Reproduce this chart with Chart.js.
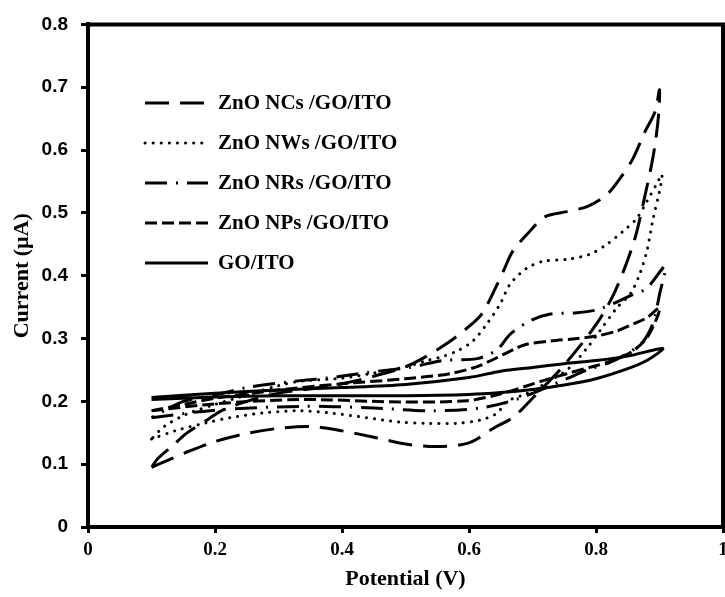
<!DOCTYPE html>
<html>
<head>
<meta charset="utf-8">
<script src="https://cdn.jsdelivr.net/npm/chart.js@4"></script>
<style>
  html, body { margin: 0; padding: 0; background: #fff; overflow: hidden; }
  #wrap { width: 760px; height: 597px; }
</style>
</head>
<body>
<div id="wrap"><canvas id="cv" width="760" height="597"></canvas></div>
<script>
// series labels, in legend order
const seriesLabels = ["ZnO NCs /GO/ITO", "ZnO NWs /GO/ITO", "ZnO NRs /GO/ITO", "ZnO NPs /GO/ITO", "GO/ITO"];

// tick labels
const xTickLabels = ["0", "0.2", "0.4", "0.6", "0.8", "1"];
const yTickLabels = ["0", "0.1", "0.2", "0.3", "0.4", "0.5", "0.6", "0.7", "0.8"];

// each loop: forward scan 0.1 -> 0.9, then back to 0.1
const ncsV = [0.10, 0.13, 0.16, 0.20, 0.25, 0.30, 0.35, 0.40, 0.45, 0.50, 0.55, 0.60, 0.64, 0.67, 0.70, 0.75, 0.80, 0.83, 0.86, 0.875, 0.89, 0.898, 0.90,
  0.893, 0.877, 0.858, 0.838, 0.817, 0.786, 0.754, 0.72, 0.696, 0.669, 0.654, 0.641, 0.62, 0.595, 0.565, 0.53, 0.50, 0.45, 0.40, 0.35, 0.30, 0.25, 0.21, 0.19, 0.155, 0.134, 0.11, 0.10];
const ncsI = [0.095, 0.108, 0.121, 0.136, 0.149, 0.157, 0.160, 0.153, 0.143, 0.132, 0.128, 0.134, 0.158, 0.175, 0.205, 0.258, 0.322, 0.375, 0.455, 0.518, 0.590, 0.650, 0.696,
  0.661, 0.629, 0.586, 0.555, 0.529, 0.510, 0.502, 0.494, 0.471, 0.439, 0.407, 0.379, 0.339, 0.315, 0.292, 0.270, 0.255, 0.240, 0.228, 0.220, 0.213, 0.200, 0.185, 0.172, 0.149, 0.130, 0.109, 0.095];

const nwsV = [0.10, 0.14, 0.187, 0.224, 0.28, 0.334, 0.386, 0.439, 0.491, 0.534, 0.58, 0.617, 0.644, 0.66, 0.69, 0.728, 0.759, 0.786, 0.806, 0.833, 0.854, 0.869, 0.88, 0.89, 0.90, 0.904,
  0.896, 0.88, 0.864, 0.843, 0.817, 0.79, 0.754, 0.717, 0.691, 0.665, 0.649, 0.628, 0.606, 0.581, 0.554, 0.534, 0.50, 0.45, 0.40, 0.334, 0.30, 0.25, 0.20, 0.156, 0.12, 0.10];
const nwsI = [0.140, 0.154, 0.166, 0.174, 0.182, 0.185, 0.181, 0.174, 0.167, 0.165, 0.165, 0.170, 0.181, 0.200, 0.212, 0.233, 0.254, 0.285, 0.312, 0.349, 0.371, 0.403, 0.439, 0.491, 0.534, 0.561,
  0.547, 0.518, 0.491, 0.471, 0.450, 0.434, 0.426, 0.423, 0.412, 0.387, 0.355, 0.323, 0.296, 0.280, 0.270, 0.265, 0.255, 0.245, 0.237, 0.232, 0.225, 0.210, 0.195, 0.180, 0.160, 0.140];

const nrsV = [0.10, 0.20, 0.334, 0.439, 0.543, 0.622, 0.68, 0.754, 0.786, 0.822, 0.849, 0.874, 0.89, 0.90, 0.909,
  0.88, 0.858, 0.806, 0.77, 0.728, 0.696, 0.665, 0.644, 0.613, 0.559, 0.507, 0.439, 0.386, 0.334, 0.25, 0.20, 0.15, 0.10];
const nrsI = [0.174, 0.186, 0.192, 0.190, 0.185, 0.190, 0.205, 0.236, 0.250, 0.262, 0.276, 0.295, 0.325, 0.370, 0.415,
  0.380, 0.370, 0.347, 0.341, 0.339, 0.328, 0.307, 0.282, 0.268, 0.265, 0.254, 0.246, 0.238, 0.233, 0.222, 0.210, 0.200, 0.174];

const npsV = [0.10, 0.20, 0.334, 0.491, 0.597, 0.65, 0.717, 0.754, 0.79, 0.827, 0.858, 0.88, 0.896, 0.90,
  0.88, 0.858, 0.833, 0.801, 0.77, 0.728, 0.691, 0.675, 0.617, 0.57, 0.50, 0.40, 0.30, 0.20, 0.15, 0.10];
const npsI = [0.185, 0.196, 0.203, 0.199, 0.201, 0.212, 0.233, 0.244, 0.254, 0.265, 0.280, 0.301, 0.333, 0.349,
  0.333, 0.323, 0.312, 0.304, 0.300, 0.296, 0.291, 0.285, 0.257, 0.244, 0.236, 0.228, 0.218, 0.205, 0.195, 0.185];

const goV = [0.10, 0.20, 0.30, 0.40, 0.50, 0.60, 0.65, 0.70, 0.75, 0.80, 0.85, 0.88, 0.905,
  0.85, 0.80, 0.75, 0.70, 0.65, 0.60, 0.50, 0.40, 0.30, 0.20, 0.10];
const goI = [0.203, 0.207, 0.209, 0.209, 0.209, 0.211, 0.214, 0.219, 0.226, 0.236, 0.252, 0.265, 0.284,
  0.272, 0.265, 0.260, 0.254, 0.248, 0.238, 0.227, 0.222, 0.218, 0.213, 0.206];

const dashes = [[24, 11], [0.1, 8], [22, 9, 2, 9], [12, 5], []];
const caps = ["butt", "round", "butt", "butt", "butt"];

function pts(v, i) {
  return v.map((x, k) => ({ x: x, y: i[k] }));
}

const series = [pts(ncsV, ncsI), pts(nwsV, nwsI), pts(nrsV, nrsI), pts(npsV, npsI), pts(goV, goI)];

const serifBold = { family: "'Liberation Serif', 'Times New Roman', serif", weight: "bold" };

// legend drawn inside the plot box, with the same dash patterns as the lines
const boxLegend = {
  id: "boxLegend",
  afterDraw(chart) {
    const ctx = chart.ctx;
    ctx.save();
    ctx.strokeStyle = "#000";
    ctx.fillStyle = "#000";
    ctx.lineWidth = 3;
    ctx.font = "bold 21px 'Liberation Serif', serif";
    ctx.textBaseline = "middle";
    seriesLabels.forEach((lab, k) => {
      const y = 103 + k * 40;
      ctx.setLineDash(dashes[k]);
      ctx.lineCap = caps[k];
      ctx.beginPath();
      ctx.moveTo(145, y);
      ctx.lineTo(208, y);
      ctx.stroke();
      ctx.setLineDash([]);
      ctx.fillText(lab, 218, y + 1);
    });
    ctx.restore();
  }
};

// top and right edges of the box
const frame = {
  id: "frame",
  afterDraw(chart) {
    const a = chart.chartArea;
    const ctx = chart.ctx;
    ctx.save();
    ctx.strokeStyle = "#000";
    ctx.lineWidth = 4;
    ctx.beginPath();
    ctx.moveTo(a.left - 2, a.top);
    ctx.lineTo(a.right, a.top);
    ctx.lineTo(a.right, a.bottom + 2);
    ctx.stroke();
    ctx.restore();
  }
};

new Chart(document.getElementById("cv"), {
  type: "scatter",
  data: {
    datasets: series.map((d, k) => ({
      label: seriesLabels[k],
      data: d,
      showLine: true,
      fill: false,
      pointRadius: 0,
      borderColor: "#000",
      borderWidth: 3,
      borderDash: dashes[k],
      borderCapStyle: caps[k],
      tension: 0.3
    }))
  },
  options: {
    responsive: false,
    animation: false,
    layout: { padding: { left: 0, top: 22, right: 37, bottom: 0 } },
    plugins: { legend: { display: false }, tooltip: { enabled: false } },
    scales: {
      x: {
        type: "linear",
        min: 0,
        max: 1,
        afterFit: (s) => { s.height = 70; },
        afterBuildTicks: (s) => { s.ticks = xTickLabels.map((t) => ({ value: parseFloat(t) })); },
        ticks: {
          callback: (v, i) => xTickLabels[i],
          color: "#000",
          padding: 6,
          maxRotation: 0,
          font: { ...serifBold, size: 19 }
        },
        grid: { drawOnChartArea: false, tickLength: 6, tickWidth: 3, color: "#000" },
        border: { display: true, width: 4, color: "#000" },
        title: {
          display: true,
          text: "Potential (V)",
          color: "#000",
          padding: { top: 0, bottom: 4 },
          font: { ...serifBold, size: 22 }
        }
      },
      y: {
        type: "linear",
        min: 0,
        max: 0.8,
        afterFit: (s) => { s.width = 88; },
        afterBuildTicks: (s) => { s.ticks = yTickLabels.map((t) => ({ value: parseFloat(t) })); },
        ticks: {
          callback: (v, i) => yTickLabels[i],
          color: "#000",
          padding: 13,
          font: { family: "'Liberation Sans', Arial, sans-serif", weight: "bold", size: 19 }
        },
        grid: { drawOnChartArea: false, tickLength: 7, tickWidth: 3, color: "#000" },
        border: { display: true, width: 4, color: "#000" },
        title: {
          display: true,
          text: "Current (µA)",
          color: "#000",
          padding: { top: 9, bottom: 0 },
          font: { ...serifBold, size: 22 }
        }
      }
    }
  },
  plugins: [boxLegend, frame]
});
</script>
</body>
</html>
